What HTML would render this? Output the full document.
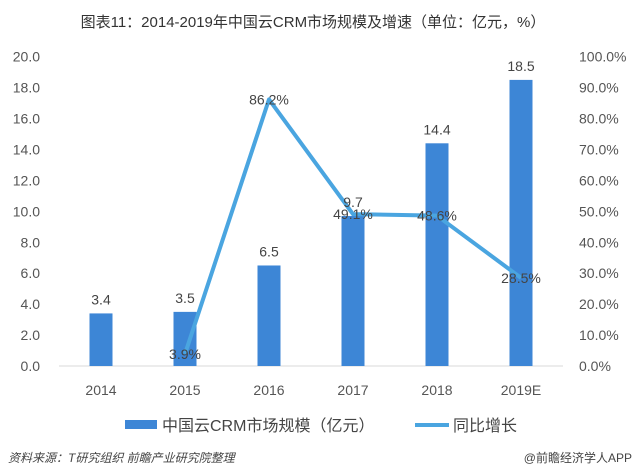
<!DOCTYPE html>
<html><head><meta charset="utf-8"><style>
body{margin:0;background:#fff;width:635px;height:476px;overflow:hidden;font-family:"Liberation Sans","Noto Sans CJK SC",sans-serif;}
svg{display:block}
</style></head><body>
<svg id="chart" width="635" height="476">
<text x="313" y="27" text-anchor="middle" font-size="15" fill="#333">图表11：2014-2019年中国云CRM市场规模及增速（单位：亿元，%）</text>
<g id="axes"></g><g id="bars"></g><g id="line"></g><g id="labels"></g>
<g>
<rect x="125" y="420" width="32" height="9" fill="#3d86d6"/>
<text x="162" y="431" font-size="16" fill="#444">中国云CRM市场规模（亿元）</text>
<line x1="415" y1="425" x2="449" y2="425" stroke="#4aa5e0" stroke-width="4"/>
<text x="453" y="431" font-size="16" fill="#444">同比增长</text>
</g>
<text x="8" y="462" font-size="12" font-style="italic" fill="#444">资料来源：T研究组织  前瞻产业研究院整理</text>
<text x="632" y="462" font-size="12" text-anchor="end" fill="#444">@前瞻经济学人APP</text>
</svg>
<script>
const categories=["2014","2015","2016","2017","2018","2019E"];
const marketSize=[3.4,3.5,6.5,9.7,14.4,18.5];
const growth=[null,3.9,86.2,49.1,48.6,28.5];
const leftTicks=[0,2,4,6,8,10,12,14,16,18,20];
const rightTicks=[0,10,20,30,40,50,60,70,80,90,100];
const NS="http://www.w3.org/2000/svg";
const y0=366,yTop=56.7;
const yL=v=>y0-(v/20)*(y0-yTop);
const yR=v=>y0-(v/100)*(y0-yTop);
const xC=i=>101+i*84;
function mk(tag,attrs,parent,text){const e=document.createElementNS(NS,tag);for(const k in attrs)e.setAttribute(k,attrs[k]);if(text!==undefined)e.textContent=text;document.getElementById(parent).appendChild(e);return e;}
let e=mk("line",{x1:59,x2:563,y1:y0,y2:y0,stroke:"#d9d9d9","stroke-width":1},"axes");


leftTicks.forEach(t=>{const el=mk("text",{x:40,y:yL(t)+5,"text-anchor":"end","font-size":14,fill:"#555"},"axes",t.toFixed(1));

});
rightTicks.forEach(t=>{const el=mk("text",{x:579,y:yR(t)+5,"font-size":14,fill:"#555"},"axes",t.toFixed(1)+"%");

});
categories.forEach((c,i)=>{const el=mk("text",{x:xC(i),y:395,"text-anchor":"middle","font-size":14,fill:"#555"},"axes",c);

});
marketSize.forEach((v,i)=>{const r=mk("rect",{x:xC(i)-11.5,y:yL(v),width:23,height:y0-yL(v),fill:"#3d86d6"},"bars");


const t=mk("text",{x:xC(i),y:yL(v)-9,"text-anchor":"middle","font-size":14,fill:"#444"},"labels",v.toFixed(1));

});
const pts=[];growth.forEach((v,i)=>{if(v!==null)pts.push([xC(i),yR(v),v]);});
const pl=mk("polyline",{points:pts.map(p=>p[0]+","+p[1]).join(" "),fill:"none",stroke:"#4aa5e0","stroke-width":4,"stroke-linejoin":"round"},"line");


pts.forEach(p=>{const t=mk("text",{x:p[0],y:p[1]+5,"text-anchor":"middle","font-size":14,fill:"#444"},"labels",p[2].toFixed(1)+"%");

});
</script>
</body></html>
